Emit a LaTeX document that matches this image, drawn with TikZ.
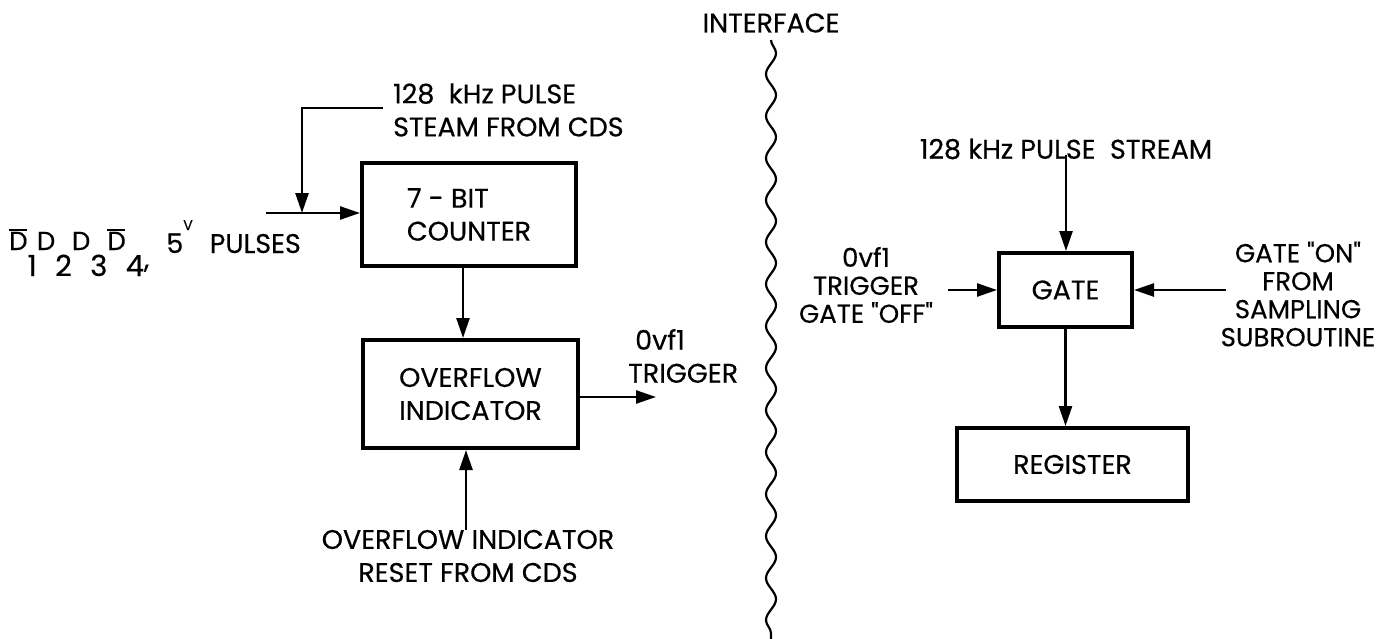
\documentclass[tikz,border=0pt]{standalone}
\usepackage{fontspec}
\setmainfont{Poppins}[Ligatures=TeXOff,FakeBold=0.4]
\usetikzlibrary{arrows.meta,decorations.pathmorphing}
\newcommand\lf{\fontsize{27}{33}\selectfont}
\newcommand\rf{\fontsize{26}{28}\selectfont}
\newcommand\dd[1]{\raisebox{3pt}{\fontsize{26}{26}\selectfont #1}}
\newcommand\obar[1]{\makebox[0pt][l]{\raisebox{22pt}{\rule{18pt}{2.5pt}}}\dd{#1}}
\newcommand\dsub[1]{\raisebox{-23pt}{\fontsize{29}{29}\selectfont #1}}
\newcommand\vsup[1]{\raisebox{23pt}{\fontsize{14}{14}\selectfont #1}}
\begin{document}
\begin{tikzpicture}[x=1pt,y=-1pt,
  boxnode/.style={draw,line width=4pt,inner sep=0pt,font=\lf},
  lbl/.style={inner sep=0pt,font=\lf},
  conn/.style={line width=2.5pt,-{Triangle[length=20pt,width=13pt]}},
  wavy/.style={line width=2.2pt,decorate,decoration={snake,segment length=42pt,amplitude=5pt}}]
\useasboundingbox (0,0) rectangle (1396,639);
% left part
\node[boxnode,minimum width=214pt,minimum height=103pt,align=left] (counter) at (469,214.5) {7 - BIT\\COUNTER};
\node[boxnode,minimum width=215pt,minimum height=108pt,align=left] (ovf) at (470.5,394) {OVERFLOW\\INDICATOR};
\node[lbl,align=left,anchor=west] (feed) at (393,110) {128~ kHz PULSE\\STEAM FROM CDS};
\node[lbl,anchor=base west] (dlbl) at (9,253) {\obar{D}\dsub{1}\dd{D}\dsub{2}\dd{D}\dsub{3}\obar{D}\dsub{4}\raisebox{-15pt}{,}\hspace{17pt}5\vsup{V}\hspace{17pt}PULSES};
\node[lbl,align=left,anchor=west] (trig) at (628,356) {\hspace{7pt}0vf1\\TRIGGER};
\node[lbl,align=center] (reset) at (468,556) {OVERFLOW INDICATOR\\RESET FROM CDS};
\coordinate (j) at (302,213);
\coordinate (din) at (266,213);
\coordinate (ovo) at (656,397);
\draw[conn] ([xshift=-10pt,yshift=2pt]feed.west) -| (j);
\draw[conn] (din) -- (din -| counter.west);
\draw[conn] ([xshift=-6pt]counter.south) -- ([xshift=-6pt]counter.south |- ovf.north);
\draw[conn] (ovo -| ovf.east) -- (ovo);
\draw[conn] ([xshift=-2pt]reset.north) -- ([xshift=-2pt]reset.north |- ovf.south);
% interface
\node[lbl] (iface) at (771,23) {INTERFACE};
\coordinate (wtop) at (771,40);
\coordinate (wbot) at (771,639);
\draw[wavy] (wtop) -- (wbot);
% right part
\node[boxnode,minimum width=133pt,minimum height=74pt] (gate) at (1065.5,290) {GATE};
\node[boxnode,minimum width=231pt,minimum height=73pt] (reg) at (1072.5,464.5) {REGISTER};
\node[lbl] (stream) at (1066,149) {128 kHz PULSE~ STREAM};
\node[lbl,align=center,font=\rf] (off) at (866,285) {0vf1\hspace{26pt}\\TRIGGER\\GATE "OFF"};
\node[lbl,align=center,font=\rf] (on) at (1298,294) {GATE "ON"\\FROM\\SAMPLING\\SUBROUTINE};
\coordinate (offa) at ([xshift=15pt]off.east);
\coordinate (ona) at ([xshift=5pt]on.west);
\draw[conn] ([yshift=4pt]stream.south) -- (stream.south |- gate.north);
\draw[conn] (offa |- gate.west) -- (gate.west);
\draw[conn] (ona |- gate.east) -- (gate.east);
\draw[conn] (gate.south) -- (gate.south |- reg.north);
\end{tikzpicture}
\end{document}
